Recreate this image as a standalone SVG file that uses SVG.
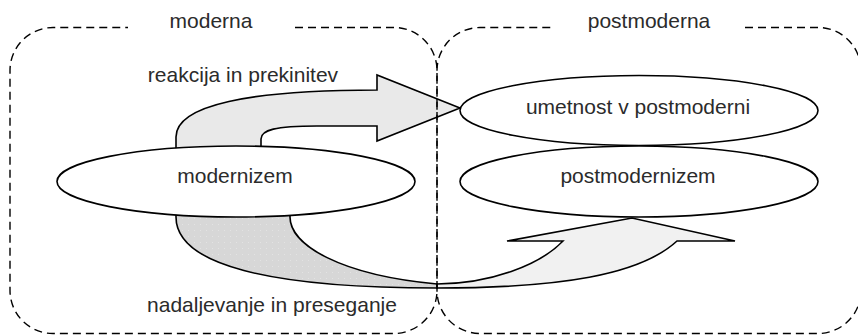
<svg xmlns="http://www.w3.org/2000/svg" width="858" height="335" viewBox="0 0 858 335">
  <style>
    .lbl { font-family: "Liberation Sans", Arial, sans-serif; font-size: 21px; fill: #2b2b2b; text-anchor: middle; }
    .node ellipse { fill: #ffffff; stroke: #000000; stroke-width: 1.6; }
    .arrow { stroke: #000000; stroke-width: 1.6; stroke-linejoin: miter; }
    .frame { fill: none; stroke: #000000; stroke-width: 1.4; stroke-dasharray: 8 5; }
  </style>
  <defs>
    <pattern id="dots" width="6" height="6" patternUnits="userSpaceOnUse">
      <rect width="6" height="6" fill="#d7d7d7"/>
      <rect x="2" y="2" width="1" height="1" fill="#e3e3e3"/>
    </pattern>
  </defs>

  <rect width="858" height="335" fill="#ffffff"/>

  <!-- connectors: curved block arrows -->
  <g id="connectors">
    <!-- reakcija in prekinitev -->
    <path class="arrow" fill="#e9e9e9"
          d="M176,152 V137 C176,105 250,90 377,90 V75 L460,108 L377,141 V126 H317 C275,126 261,130 261,139 V152 Z"/>
    <!-- nadaljevanje in preseganje: back fold -->
    <path class="arrow" fill="url(#dots)"
          d="M176,212 V217 C176,265 270,288 437,288 L437,284 C340,275 290,245 290,217 V212 Z"/>
    <!-- nadaljevanje in preseganje: front with head -->
    <path class="arrow" fill="#f1f1f1"
          d="M437,288 C560,288 640,275 677,241 H735 L632,218 L507,241 H563 C540,265 490,284 437,284 Z"/>
  </g>

  <!-- nodes -->
  <g id="modernizem" class="node">
    <ellipse cx="236" cy="181.5" rx="179" ry="35.5"/>
    <text class="lbl" x="235" y="183">modernizem</text>
  </g>
  <g id="umetnost" class="node">
    <ellipse cx="639" cy="110.5" rx="179" ry="35"/>
    <text class="lbl" x="638" y="114">umetnost v postmoderni</text>
  </g>
  <g id="postmodernizem" class="node">
    <ellipse cx="639" cy="181.5" rx="179" ry="35.5"/>
    <text class="lbl" x="638" y="183">postmodernizem</text>
  </g>

  <!-- era frames -->
  <g id="moderna">
    <path class="frame" d="M295,27.5 H394 A43,43 0 0 1 437,70.5 V290.5 A43,43 0 0 1 394,333.5 H53 A43,43 0 0 1 10,290.5 V70.5 A43,43 0 0 1 53,27.5 H128"/>
    <text class="lbl" x="211" y="28">moderna</text>
  </g>
  <g id="postmoderna">
    <path class="frame" d="M745,27.5 H818 A43,43 0 0 1 861,70.5 V290.5 A43,43 0 0 1 818,333.5 H480 A43,43 0 0 1 437,290.5 V70.5 A43,43 0 0 1 480,27.5 H553"/>
    <text class="lbl" x="649" y="28">postmoderna</text>
  </g>

  <!-- arrow labels -->
  <text class="lbl" x="243" y="82">reakcija in prekinitev</text>
  <text class="lbl" x="272" y="312">nadaljevanje in preseganje</text>
</svg>
